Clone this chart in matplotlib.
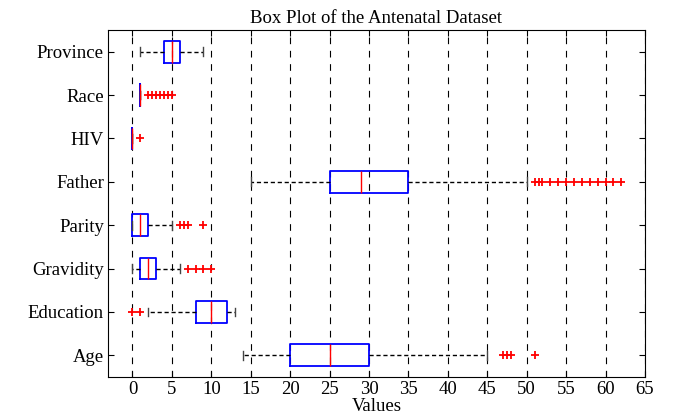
import numpy as np
import matplotlib
matplotlib.use('Agg')
import matplotlib.pyplot as plt

plt.rcParams['font.family'] = ['Liberation Serif', 'DejaVu Serif']

# variables, bottom to top
names = ['Age', 'Education', 'Gravidity', 'Parity', 'Father', 'HIV', 'Race', 'Province']
whislo = [14, 2, 0, 0, 15, 0, 1, 1]
q1 = [20, 8, 1, 0, 25, 0, 1, 4]
med = [25, 10, 2, 1, 29, 0, 1, 5]
q3 = [30, 12, 3, 2, 35, 0, 1, 6]
whishi = [45, 13, 6, 5, 50, 0, 1, 9]
outliers = [
	[47, 47.5, 48, 51],
	[0, 1],
	[7, 8, 9, 10],
	[6, 6.5, 7, 9],
	[51, 51.5, 52, 53, 54, 55, 56, 57, 58, 59, 60, 61, 62],
	[1],
	[2, 2.5, 3, 3.5, 4, 4.5, 5],
	[],
]
xticks = list(range(0, 70, 5))

stats = []
for i in range(len(names)):
	stats.append({'label': names[i], 'whislo': whislo[i], 'q1': q1[i], 'med': med[i],
				  'q3': q3[i], 'whishi': whishi[i], 'fliers': outliers[i]})

fig = plt.figure(figsize=(6.77, 4.2), dpi=100)
ax = fig.add_axes([108/677, 1-377/420, (645-108)/677, (377-30)/420])

ax.bxp(stats, positions=range(1, 9), vert=False, widths=0.5, capwidths=0.2,
	   boxprops=dict(color='blue', linewidth=1.3),
	   medianprops=dict(color='red', linewidth=1.0),
	   whiskerprops=dict(color='black', linestyle='--', linewidth=1.0, dashes=(3, 2)),
	   capprops=dict(color='#444444', linewidth=1.0),
	   flierprops=dict(marker='+', markeredgecolor='red', markersize=6, markeredgewidth=1.3))

ax.set_xlim(-3.1, 65)
ax.set_ylim(0.5, 8.5)
ax.set_xticks(xticks)
ax.set_yticks(range(1, 9))
ax.set_yticklabels(names)
for x in xticks:
	ax.axvline(x, color='black', linestyle=(0, (6, 6)), linewidth=0.8, zorder=0)
ax.tick_params(direction='in', top=True, right=True, labelsize=13.5, length=4, pad=3)
ax.set_xlabel('Values', fontsize=13.5, labelpad=0)
ax.set_title('Box Plot of the Antenatal Dataset', fontsize=13.5, pad=5)

plt.savefig('out.png', dpi=100)
plt.close()
